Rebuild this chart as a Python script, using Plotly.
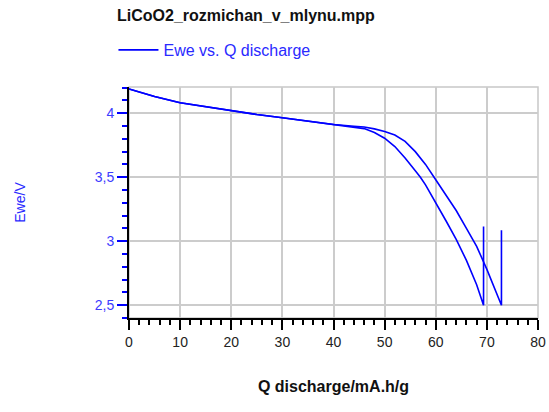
import plotly.graph_objects as go

# Cycle A (shorter capacity)
q_a = [0, 2, 5, 10, 15, 20, 25, 30, 35, 40, 44, 46, 48, 50, 52, 54, 56, 57, 58, 60, 62, 64, 66, 68, 69.35, 69.35]
v_a = [4.19, 4.165, 4.13, 4.082, 4.05, 4.02, 3.99, 3.965, 3.94, 3.912, 3.895, 3.88, 3.85, 3.805, 3.74, 3.65, 3.55, 3.5, 3.44, 3.305, 3.16, 3.015, 2.85, 2.66, 2.5, 3.115]

# Cycle B (longer capacity)
q_b = [0, 2, 5, 10, 15, 20, 25, 30, 35, 40, 44, 46, 48, 50, 52, 54, 56, 58, 60, 62, 64, 66, 68, 70, 72, 72.85, 72.85]
v_b = [4.19, 4.165, 4.13, 4.082, 4.05, 4.02, 3.99, 3.965, 3.94, 3.912, 3.898, 3.892, 3.878, 3.858, 3.83, 3.78, 3.70, 3.60, 3.48, 3.36, 3.24, 3.10, 2.96, 2.78, 2.58, 2.5, 3.085]

x_ticks = [0, 10, 20, 30, 40, 50, 60, 70, 80]
y_ticks = [2.5, 3, 3.5, 4]

title_text = "LiCoO2_rozmichan_v_mlynu.mpp"
series_name = "Ewe vs. Q discharge"
x_title = "Q discharge/mA.h/g"
y_title = "Ewe/V"

FONT = "Liberation Sans, Arial, sans-serif"
BLUE = "#0000ff"
TXTBLUE = "#2a2aff"

q_all = q_a + [None] + q_b
v_all = v_a + [None] + v_b

fig = go.Figure()
fig.add_trace(go.Scatter(
    x=q_all, y=v_all, mode="lines", name=series_name,
    line=dict(color=BLUE, width=1.6), connectgaps=False, showlegend=True,
))

fig.update_layout(
    width=549, height=412,
    margin=dict(l=129, r=11, t=87, b=94, autoexpand=False),
    paper_bgcolor="white", plot_bgcolor="white",
    separators=", ",
    font=dict(family=FONT, size=14, color="#222222"),
    title=dict(text="<b>" + title_text + "</b>", x=117 / 549, xref="container", xanchor="left",
               y=1 - 15 / 412, yref="container", yanchor="middle",
               font=dict(family=FONT, size=16, color="#111111")),
    showlegend=True,
    legend=dict(x=-0.038, xanchor="left", y=1 + (87 - 50) / 231, yanchor="middle",
                font=dict(family=FONT, size=16, color=TXTBLUE), bgcolor="rgba(0,0,0,0)",
                itemwidth=40, borderwidth=0),
    xaxis=dict(
        range=[0, 80], tickvals=x_ticks, ticks="outside", ticklen=10, tickwidth=2, tickcolor="#000000",
        showline=True, linecolor="#000000", linewidth=2,
        showgrid=True, gridcolor="#cccccc", gridwidth=1.5, zeroline=False,
        tickfont=dict(family=FONT, size=14, color="#222222"),
        minor=dict(dtick=2, tick0=0, ticks="outside", ticklen=5, tickwidth=1.5, tickcolor="#000000", showgrid=False),
        title=dict(text="<b>" + x_title + "</b>", standoff=32, font=dict(family=FONT, size=16, color="#111111")),
    ),
    yaxis=dict(
        range=[2.4, 4.205], tickvals=y_ticks, ticks="outside", ticklen=10, tickwidth=2, tickcolor=BLUE,
        showline=True, linecolor="#000000", linewidth=2,
        showgrid=True, gridcolor="#cccccc", gridwidth=1.5, zeroline=False,
        tickfont=dict(family=FONT, size=14, color="#3c3cff"),
        minor=dict(dtick=0.1, tick0=2.5, ticks="outside", ticklen=5, tickwidth=1.5, tickcolor=BLUE, showgrid=False),
        title=dict(text=y_title, standoff=66, font=dict(family=FONT, size=14, color=TXTBLUE)),
    ),
)

fig.add_shape(type="rect", xref="paper", yref="paper", x0=0, x1=1, y0=0, y1=1,
              line=dict(color="#c8c8c8", width=1.5), layer="below")

fig.write_html("out.html")
